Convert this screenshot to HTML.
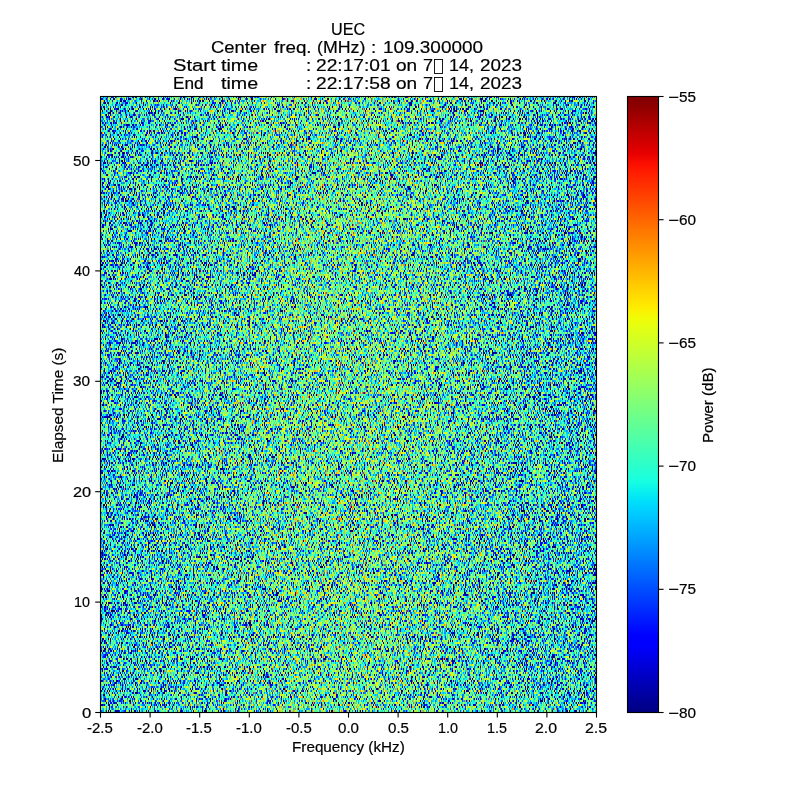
<!DOCTYPE html>
<html><head><meta charset="utf-8"><title>UEC spectrogram</title>
<style>
html,body{margin:0;padding:0;background:#fff}
body{width:800px;height:800px;position:relative;overflow:hidden;font-family:"Liberation Sans", sans-serif;color:#000}
.t{position:absolute;white-space:pre;line-height:1;transform-origin:0 0;font-family:"Liberation Sans", sans-serif;color:#000;-webkit-text-stroke:0.2px #000}
svg{position:absolute;left:0;top:0}
#tx{position:absolute;left:0;top:0;width:800px;height:800px;will-change:transform}
#cb{position:absolute;left:627px;top:96px;width:32px;height:617px;background:linear-gradient(to bottom,rgb(128,0,0) 0.000%,rgb(141,0,0) 1.562%,rgb(159,0,0) 3.125%,rgb(178,0,0) 4.688%,rgb(196,0,0) 6.250%,rgb(214,0,0) 7.812%,rgb(232,0,0) 9.375%,rgb(250,15,0) 10.938%,rgb(255,30,0) 12.500%,rgb(255,45,0) 14.062%,rgb(255,59,0) 15.625%,rgb(255,74,0) 17.188%,rgb(255,89,0) 18.750%,rgb(255,104,0) 20.312%,rgb(255,119,0) 21.875%,rgb(255,134,0) 23.438%,rgb(255,148,0) 25.000%,rgb(255,163,0) 26.562%,rgb(255,178,0) 28.125%,rgb(255,193,0) 29.688%,rgb(255,208,0) 31.250%,rgb(255,222,0) 32.812%,rgb(254,237,0) 34.375%,rgb(241,252,6) 35.938%,rgb(228,255,19) 37.500%,rgb(215,255,31) 39.062%,rgb(202,255,44) 40.625%,rgb(190,255,57) 42.188%,rgb(177,255,70) 43.750%,rgb(164,255,83) 45.312%,rgb(151,255,96) 46.875%,rgb(138,255,109) 48.438%,rgb(125,255,122) 50.000%,rgb(112,255,135) 51.562%,rgb(99,255,148) 53.125%,rgb(86,255,160) 54.688%,rgb(73,255,173) 56.250%,rgb(60,255,186) 57.812%,rgb(48,255,199) 59.375%,rgb(35,255,212) 60.938%,rgb(22,255,225) 62.500%,rgb(9,240,238) 64.062%,rgb(0,224,251) 65.625%,rgb(0,208,255) 67.188%,rgb(0,192,255) 68.750%,rgb(0,176,255) 70.312%,rgb(0,160,255) 71.875%,rgb(0,144,255) 73.438%,rgb(0,128,255) 75.000%,rgb(0,112,255) 76.562%,rgb(0,96,255) 78.125%,rgb(0,80,255) 79.688%,rgb(0,64,255) 81.250%,rgb(0,48,255) 82.812%,rgb(0,32,255) 84.375%,rgb(0,16,255) 85.938%,rgb(0,0,255) 87.500%,rgb(0,0,255) 89.062%,rgb(0,0,237) 90.625%,rgb(0,0,218) 92.188%,rgb(0,0,200) 93.750%,rgb(0,0,182) 95.312%,rgb(0,0,164) 96.875%,rgb(0,0,146) 98.438%,rgb(0,0,128) 100.000%)}
</style></head><body>
<div id="cb"></div>
<svg width="800" height="800" viewBox="0 0 800 800">
<defs>
<linearGradient id="mg" gradientUnits="userSpaceOnUse" x1="0" y1="0" x2="496" y2="0"><stop offset="0.0000" stop-color="rgb(55,55,55)"/><stop offset="0.0156" stop-color="rgb(61,61,61)"/><stop offset="0.0312" stop-color="rgb(67,67,67)"/><stop offset="0.0469" stop-color="rgb(73,73,73)"/><stop offset="0.0625" stop-color="rgb(79,79,79)"/><stop offset="0.0781" stop-color="rgb(86,86,86)"/><stop offset="0.0938" stop-color="rgb(94,94,94)"/><stop offset="0.1094" stop-color="rgb(101,101,101)"/><stop offset="0.1250" stop-color="rgb(109,109,109)"/><stop offset="0.1406" stop-color="rgb(117,117,117)"/><stop offset="0.1562" stop-color="rgb(125,125,125)"/><stop offset="0.1719" stop-color="rgb(134,134,134)"/><stop offset="0.1875" stop-color="rgb(142,142,142)"/><stop offset="0.2031" stop-color="rgb(151,151,151)"/><stop offset="0.2188" stop-color="rgb(159,159,159)"/><stop offset="0.2344" stop-color="rgb(168,168,168)"/><stop offset="0.2500" stop-color="rgb(177,177,177)"/><stop offset="0.2656" stop-color="rgb(185,185,185)"/><stop offset="0.2812" stop-color="rgb(193,193,193)"/><stop offset="0.2969" stop-color="rgb(201,201,201)"/><stop offset="0.3125" stop-color="rgb(209,209,209)"/><stop offset="0.3281" stop-color="rgb(216,216,216)"/><stop offset="0.3438" stop-color="rgb(222,222,222)"/><stop offset="0.3594" stop-color="rgb(229,229,229)"/><stop offset="0.3750" stop-color="rgb(234,234,234)"/><stop offset="0.3906" stop-color="rgb(239,239,239)"/><stop offset="0.4062" stop-color="rgb(244,244,244)"/><stop offset="0.4219" stop-color="rgb(248,248,248)"/><stop offset="0.4375" stop-color="rgb(251,251,251)"/><stop offset="0.4531" stop-color="rgb(253,253,253)"/><stop offset="0.4688" stop-color="rgb(254,254,254)"/><stop offset="0.4844" stop-color="rgb(255,255,255)"/><stop offset="0.5000" stop-color="rgb(255,255,255)"/><stop offset="0.5156" stop-color="rgb(254,254,254)"/><stop offset="0.5312" stop-color="rgb(252,252,252)"/><stop offset="0.5469" stop-color="rgb(250,250,250)"/><stop offset="0.5625" stop-color="rgb(247,247,247)"/><stop offset="0.5781" stop-color="rgb(243,243,243)"/><stop offset="0.5938" stop-color="rgb(238,238,238)"/><stop offset="0.6094" stop-color="rgb(233,233,233)"/><stop offset="0.6250" stop-color="rgb(227,227,227)"/><stop offset="0.6406" stop-color="rgb(221,221,221)"/><stop offset="0.6562" stop-color="rgb(214,214,214)"/><stop offset="0.6719" stop-color="rgb(207,207,207)"/><stop offset="0.6875" stop-color="rgb(199,199,199)"/><stop offset="0.7031" stop-color="rgb(191,191,191)"/><stop offset="0.7188" stop-color="rgb(183,183,183)"/><stop offset="0.7344" stop-color="rgb(174,174,174)"/><stop offset="0.7500" stop-color="rgb(166,166,166)"/><stop offset="0.7656" stop-color="rgb(157,157,157)"/><stop offset="0.7812" stop-color="rgb(148,148,148)"/><stop offset="0.7969" stop-color="rgb(140,140,140)"/><stop offset="0.8125" stop-color="rgb(131,131,131)"/><stop offset="0.8281" stop-color="rgb(123,123,123)"/><stop offset="0.8438" stop-color="rgb(115,115,115)"/><stop offset="0.8594" stop-color="rgb(107,107,107)"/><stop offset="0.8750" stop-color="rgb(99,99,99)"/><stop offset="0.8906" stop-color="rgb(92,92,92)"/><stop offset="0.9062" stop-color="rgb(84,84,84)"/><stop offset="0.9219" stop-color="rgb(78,78,78)"/><stop offset="0.9375" stop-color="rgb(71,71,71)"/><stop offset="0.9531" stop-color="rgb(65,65,65)"/><stop offset="0.9688" stop-color="rgb(59,59,59)"/><stop offset="0.9844" stop-color="rgb(54,54,54)"/><stop offset="1.0000" stop-color="rgb(49,49,49)"/></linearGradient>
<pattern id="rows" patternUnits="userSpaceOnUse" x="100" y="96" width="496" height="2"><rect x="0" y="0" width="496" height="1" fill="url(#mg)" shape-rendering="crispEdges"/></pattern>
<filter id="nz" filterUnits="userSpaceOnUse" x="100" y="96" width="496" height="616" color-interpolation-filters="sRGB">
<feTurbulence x="100" y="96" width="100" height="616" type="fractalNoise" baseFrequency="2.3379 0.40895" numOctaves="2" seed="3" result="t00"/>
<feTurbulence x="200" y="96" width="100" height="616" type="fractalNoise" baseFrequency="2.3379 0.40895" numOctaves="2" seed="10" result="t01"/>
<feTurbulence x="300" y="96" width="100" height="616" type="fractalNoise" baseFrequency="2.3379 0.40895" numOctaves="2" seed="17" result="t02"/>
<feTurbulence x="400" y="96" width="100" height="616" type="fractalNoise" baseFrequency="2.3379 0.40895" numOctaves="2" seed="24" result="t03"/>
<feTurbulence x="500" y="96" width="96" height="616" type="fractalNoise" baseFrequency="2.3379 0.40895" numOctaves="2" seed="31" result="t04"/>
<feMerge result="m0"><feMergeNode in="t00"/><feMergeNode in="t01"/><feMergeNode in="t02"/><feMergeNode in="t03"/><feMergeNode in="t04"/></feMerge>
<feColorMatrix in="m0" type="matrix" values="0 0 0 1 0 0 0 0 1 0 0 0 0 1 0 0 0 0 0 1" result="g0"/>
<feTurbulence x="100" y="96" width="100" height="616" type="fractalNoise" baseFrequency="1.9306 0.37101" numOctaves="2" seed="40" result="t10"/>
<feTurbulence x="200" y="96" width="100" height="616" type="fractalNoise" baseFrequency="1.9306 0.37101" numOctaves="2" seed="47" result="t11"/>
<feTurbulence x="300" y="96" width="100" height="616" type="fractalNoise" baseFrequency="1.9306 0.37101" numOctaves="2" seed="54" result="t12"/>
<feTurbulence x="400" y="96" width="100" height="616" type="fractalNoise" baseFrequency="1.9306 0.37101" numOctaves="2" seed="61" result="t13"/>
<feTurbulence x="500" y="96" width="96" height="616" type="fractalNoise" baseFrequency="1.9306 0.37101" numOctaves="2" seed="68" result="t14"/>
<feMerge result="m1"><feMergeNode in="t10"/><feMergeNode in="t11"/><feMergeNode in="t12"/><feMergeNode in="t13"/><feMergeNode in="t14"/></feMerge>
<feColorMatrix in="m1" type="matrix" values="0 0 0 1 0 0 0 0 1 0 0 0 0 1 0 0 0 0 0 1" result="g1"/>
<feComposite in="g0" in2="g1" operator="arithmetic" k1="0" k2="1" k3="1" k4="-0.5" result="n"/>
<feComposite in="n" in2="SourceGraphic" operator="in" result="ne"/>
<feOffset in="ne" dy="1" result="no"/>
<feMerge result="nn"><feMergeNode in="no"/><feMergeNode in="ne"/></feMerge>
<feComponentTransfer in="nn" result="d"><feFuncR type="table" tableValues="0 0 0 0 0 0 0 0 0 0 0 0 0 0 0 0 0 0 0 0 0 0 0 0 0 0 0 0 0 0 0 0 0 0 0 0 0 0 0 0 0 0 0 0 0 0 0 0 0 0 0 0 0 0 0 0 0 0 0.002 0.011 0.019 0.028 0.037 0.046 0.054 0.062 0.07 0.078 0.086 0.094 0.102 0.11 0.117 0.125 0.132 0.14 0.147 0.154 0.162 0.169 0.176 0.183 0.19 0.196 0.203 0.21 0.217 0.224 0.23 0.237 0.243 0.249 0.256 0.262 0.268 0.275 0.281 0.287 0.293 0.299 0.304 0.31 0.316 0.322 0.327 0.333 0.339 0.344 0.35 0.355 0.361 0.366 0.371 0.376 0.382 0.387 0.392 0.397 0.402 0.407 0.412 0.417 0.422 0.427 0.432 0.436 0.441 0.446 0.45 0.455 0.459 0.464 0.468 0.473 0.477 0.481 0.486 0.49 0.495 0.499 0.503 0.507 0.511 0.515 0.52 0.524 0.528 0.532 0.536 0.54 0.544 0.548 0.551 0.555 0.559 0.563 0.566 0.57 0.574 0.577 0.581 0.585 0.588 0.592 0.596 0.599 0.603 0.606 0.61 0.613 0.616 0.62 0.623 0.626 0.63 0.633 0.636 0.639 0.643 0.646 0.649 0.652 0.656 0.659 0.662 0.665 0.668 0.671 0.674 0.678 0.681 0.683 0.686 0.689 0.692 0.695 0.698 0.701 0.704 0.707 0.71 0.712 0.715 0.718 0.721 0.723 0.726 0.73 0.733 0.735 0.738 0.74 0.743 0.746 0.748 0.751 0.754 0.756 0.759 0.761 0.764 0.767 0.769 0.771 0.774 0.777 0.78 0.783 0.785 0.788 0.79 0.792 0.794 0.797 0.8 0.803 0.805 0.807 0.81 0.812 0.814 0.817 0.82 0.822 0.824 0.826 0.828 0.831 0.833 0.835 0.837 0.84 0.841 0.844 0.848 0.868"/><feFuncG type="table" tableValues="0 0 0 0 0 0 0 0 0 0 0 0 0 0 0 0 0 0 0 0 0 0 0 0 0 0 0 0 0 0 0 0 0 0 0 0 0 0 0 0 0 0 0 0 0 0 0 0 0 0 0 0 0 0 0 0 0 0 0.002 0.011 0.019 0.028 0.037 0.046 0.054 0.062 0.07 0.078 0.086 0.094 0.102 0.11 0.117 0.125 0.132 0.14 0.147 0.154 0.162 0.169 0.176 0.183 0.19 0.196 0.203 0.21 0.217 0.224 0.23 0.237 0.243 0.249 0.256 0.262 0.268 0.275 0.281 0.287 0.293 0.299 0.304 0.31 0.316 0.322 0.327 0.333 0.339 0.344 0.35 0.355 0.361 0.366 0.371 0.376 0.382 0.387 0.392 0.397 0.402 0.407 0.412 0.417 0.422 0.427 0.432 0.436 0.441 0.446 0.45 0.455 0.459 0.464 0.468 0.473 0.477 0.481 0.486 0.49 0.495 0.499 0.503 0.507 0.511 0.515 0.52 0.524 0.528 0.532 0.536 0.54 0.544 0.548 0.551 0.555 0.559 0.563 0.566 0.57 0.574 0.577 0.581 0.585 0.588 0.592 0.596 0.599 0.603 0.606 0.61 0.613 0.616 0.62 0.623 0.626 0.63 0.633 0.636 0.639 0.643 0.646 0.649 0.652 0.656 0.659 0.662 0.665 0.668 0.671 0.674 0.678 0.681 0.683 0.686 0.689 0.692 0.695 0.698 0.701 0.704 0.707 0.71 0.712 0.715 0.718 0.721 0.723 0.726 0.73 0.733 0.735 0.738 0.74 0.743 0.746 0.748 0.751 0.754 0.756 0.759 0.761 0.764 0.767 0.769 0.771 0.774 0.777 0.78 0.783 0.785 0.788 0.79 0.792 0.794 0.797 0.8 0.803 0.805 0.807 0.81 0.812 0.814 0.817 0.82 0.822 0.824 0.826 0.828 0.831 0.833 0.835 0.837 0.84 0.841 0.844 0.848 0.868"/><feFuncB type="table" tableValues="0 0 0 0 0 0 0 0 0 0 0 0 0 0 0 0 0 0 0 0 0 0 0 0 0 0 0 0 0 0 0 0 0 0 0 0 0 0 0 0 0 0 0 0 0 0 0 0 0 0 0 0 0 0 0 0 0 0 0.002 0.011 0.019 0.028 0.037 0.046 0.054 0.062 0.07 0.078 0.086 0.094 0.102 0.11 0.117 0.125 0.132 0.14 0.147 0.154 0.162 0.169 0.176 0.183 0.19 0.196 0.203 0.21 0.217 0.224 0.23 0.237 0.243 0.249 0.256 0.262 0.268 0.275 0.281 0.287 0.293 0.299 0.304 0.31 0.316 0.322 0.327 0.333 0.339 0.344 0.35 0.355 0.361 0.366 0.371 0.376 0.382 0.387 0.392 0.397 0.402 0.407 0.412 0.417 0.422 0.427 0.432 0.436 0.441 0.446 0.45 0.455 0.459 0.464 0.468 0.473 0.477 0.481 0.486 0.49 0.495 0.499 0.503 0.507 0.511 0.515 0.52 0.524 0.528 0.532 0.536 0.54 0.544 0.548 0.551 0.555 0.559 0.563 0.566 0.57 0.574 0.577 0.581 0.585 0.588 0.592 0.596 0.599 0.603 0.606 0.61 0.613 0.616 0.62 0.623 0.626 0.63 0.633 0.636 0.639 0.643 0.646 0.649 0.652 0.656 0.659 0.662 0.665 0.668 0.671 0.674 0.678 0.681 0.683 0.686 0.689 0.692 0.695 0.698 0.701 0.704 0.707 0.71 0.712 0.715 0.718 0.721 0.723 0.726 0.73 0.733 0.735 0.738 0.74 0.743 0.746 0.748 0.751 0.754 0.756 0.759 0.761 0.764 0.767 0.769 0.771 0.774 0.777 0.78 0.783 0.785 0.788 0.79 0.792 0.794 0.797 0.8 0.803 0.805 0.807 0.81 0.812 0.814 0.817 0.82 0.822 0.824 0.826 0.828 0.831 0.833 0.835 0.837 0.84 0.841 0.844 0.848 0.868"/></feComponentTransfer>
<feOffset in="SourceGraphic" dy="1" result="so"/>
<feMerge result="gg"><feMergeNode in="so"/><feMergeNode in="SourceGraphic"/></feMerge>
<feComposite in="d" in2="gg" operator="arithmetic" k1="0" k2="1" k3="0.1200" k4="-0.1200" result="v"/>
<feComponentTransfer in="v" result="c"><feFuncR type="table" tableValues="0 0 0 0 0 0 0 0 0 0 0 0 0 0 0 0 0 0 0 0 0 0 0 0 0 0 0 0 0 0 0 0 0 0 0 0 0 0 0 0 0 0 0 0 0 0 0 0 0 0 0 0 0 0 0 0 0 0 0 0 0 0 0 0 0 0 0 0 0 0 0 0 0 0 0 0 0 0 0 0 0 0 0 0 0 0 0 0 0 0 0.009 0.022 0.035 0.047 0.06 0.073 0.085 0.098 0.111 0.123 0.136 0.149 0.161 0.174 0.187 0.199 0.212 0.225 0.237 0.25 0.262 0.275 0.288 0.3 0.313 0.326 0.338 0.351 0.364 0.376 0.389 0.402 0.414 0.427 0.44 0.452 0.465 0.478 0.49 0.503 0.515 0.528 0.541 0.553 0.566 0.579 0.591 0.604 0.617 0.629 0.642 0.655 0.667 0.68 0.693 0.705 0.718 0.731 0.743 0.756 0.769 0.781 0.794 0.806 0.819 0.832 0.844 0.857 0.87 0.882 0.895 0.908 0.92 0.933 0.946 0.958 0.971 0.984 0.996 1 1 1 1 1 1 1 1 1 1 1 1 1 1 1 1 1 1 1 1 1 1 1 1 1 1 1 1 1 1 1 1 1 1 1 1 1 1 1 1 1 1 1 1 1 1 1 1 1 1 1 1 1 1 1 1 1 1 0.999 0.981 0.963 0.946 0.928 0.91 0.892 0.874 0.857 0.839 0.821 0.803 0.785 0.767 0.75 0.732 0.714 0.696 0.678 0.66 0.643 0.625 0.607 0.589 0.571 0.553 0.536 0.518 0.5"/><feFuncG type="table" tableValues="0 0 0 0 0 0 0 0 0 0 0 0 0 0 0 0 0 0 0 0 0 0 0 0 0 0 0 0 0 0 0 0 0.002 0.018 0.033 0.049 0.065 0.08 0.096 0.112 0.127 0.143 0.159 0.175 0.19 0.206 0.222 0.237 0.253 0.269 0.284 0.3 0.316 0.331 0.347 0.363 0.378 0.394 0.41 0.425 0.441 0.457 0.473 0.488 0.504 0.52 0.535 0.551 0.567 0.582 0.598 0.614 0.629 0.645 0.661 0.676 0.692 0.708 0.724 0.739 0.755 0.771 0.786 0.802 0.818 0.833 0.849 0.865 0.88 0.896 0.912 0.927 0.943 0.959 0.975 0.99 1 1 1 1 1 1 1 1 1 1 1 1 1 1 1 1 1 1 1 1 1 1 1 1 1 1 1 1 1 1 1 1 1 1 1 1 1 1 1 1 1 1 1 1 1 1 1 1 1 1 1 1 1 1 1 1 1 1 1 1 1 1 1 1 1 1 1 1 0.988 0.974 0.959 0.945 0.93 0.916 0.901 0.887 0.872 0.858 0.843 0.829 0.814 0.8 0.785 0.771 0.756 0.741 0.727 0.712 0.698 0.683 0.669 0.654 0.64 0.625 0.611 0.596 0.582 0.567 0.553 0.538 0.524 0.509 0.495 0.48 0.466 0.451 0.436 0.422 0.407 0.393 0.378 0.364 0.349 0.335 0.32 0.306 0.291 0.277 0.262 0.248 0.233 0.219 0.204 0.19 0.175 0.16 0.146 0.131 0.117 0.102 0.088 0.073 0.059 0.044 0.03 0.015 0.001 0 0 0 0 0 0 0 0 0 0 0 0 0 0 0 0 0 0 0 0 0 0 0"/><feFuncB type="table" tableValues="0.5 0.518 0.536 0.553 0.571 0.589 0.607 0.625 0.643 0.66 0.678 0.696 0.714 0.732 0.75 0.767 0.785 0.803 0.821 0.839 0.857 0.874 0.892 0.91 0.928 0.946 0.963 0.981 0.999 1 1 1 1 1 1 1 1 1 1 1 1 1 1 1 1 1 1 1 1 1 1 1 1 1 1 1 1 1 1 1 1 1 1 1 1 1 1 1 1 1 1 1 1 1 1 1 1 1 1 1 1 1 1 1 1 1 1 0.996 0.984 0.971 0.958 0.946 0.933 0.92 0.908 0.895 0.882 0.87 0.857 0.844 0.832 0.819 0.806 0.794 0.781 0.769 0.756 0.743 0.731 0.718 0.705 0.693 0.68 0.667 0.655 0.642 0.629 0.617 0.604 0.591 0.579 0.566 0.553 0.541 0.528 0.515 0.503 0.49 0.478 0.465 0.452 0.44 0.427 0.414 0.402 0.389 0.376 0.364 0.351 0.338 0.326 0.313 0.3 0.288 0.275 0.262 0.25 0.237 0.225 0.212 0.199 0.187 0.174 0.161 0.149 0.136 0.123 0.111 0.098 0.085 0.073 0.06 0.047 0.035 0.022 0.009 0 0 0 0 0 0 0 0 0 0 0 0 0 0 0 0 0 0 0 0 0 0 0 0 0 0 0 0 0 0 0 0 0 0 0 0 0 0 0 0 0 0 0 0 0 0 0 0 0 0 0 0 0 0 0 0 0 0 0 0 0 0 0 0 0 0 0 0 0 0 0 0 0 0 0 0 0 0 0 0 0 0 0 0 0 0 0 0 0 0"/></feComponentTransfer>

</filter>
</defs>
<rect x="100" y="96" width="496" height="616" fill="#2ec8c0"/>
<rect x="100" y="96" width="496" height="616" fill="url(#rows)" filter="url(#nz)"/>
<g fill="none" stroke="#000" stroke-width="1.11">
<rect x="100.5" y="96.5" width="496" height="616"/>
<rect x="627.5" y="96.5" width="31" height="616"/>
</g>
<g stroke="#000" stroke-width="1.1">
<path d="M100.50 713V717.6"/><path d="M150.10 713V717.6"/><path d="M199.70 713V717.6"/><path d="M249.30 713V717.6"/><path d="M298.90 713V717.6"/><path d="M348.50 713V717.6"/><path d="M398.10 713V717.6"/><path d="M447.70 713V717.6"/><path d="M497.30 713V717.6"/><path d="M546.90 713V717.6"/><path d="M596.50 713V717.6"/>
<path d="M100 712.50H95.2"/><path d="M100 602.10H95.2"/><path d="M100 491.70H95.2"/><path d="M100 381.30H95.2"/><path d="M100 270.90H95.2"/><path d="M100 160.50H95.2"/>
<path d="M659 96.50H663.6"/><path d="M659 219.70H663.6"/><path d="M659 342.90H663.6"/><path d="M659 466.10H663.6"/><path d="M659 589.30H663.6"/><path d="M659 712.50H663.6"/>
</g>
<g fill="none" stroke="#000" stroke-width="0.9"><rect x="434.45" y="59.45" width="8.1" height="14"/><rect x="434.45" y="77.45" width="8.1" height="14"/></g>
</svg>
<div id="tx">
<div class="t" style="left:331.06px;top:21.44px;font-size:17.2px;transform:scaleX(0.9412)">UEC</div>
<div class="t" style="left:211.33px;top:39.44px;font-size:17.2px;transform:scaleX(1.0720)">Center</div>
<div class="t" style="left:274.40px;top:39.44px;font-size:17.2px;transform:scaleX(1.0909)">freq.</div>
<div class="t" style="left:317.47px;top:39.44px;font-size:17.2px;transform:scaleX(1.0333)">(MHz)</div>
<div class="t" style="left:371.30px;top:39.44px;font-size:17.2px;transform:scaleX(1.1000)">:</div>
<div class="t" style="left:382.90px;top:39.44px;font-size:17.2px;transform:scaleX(1.1011)">109.300000</div>
<div class="t" style="left:172.83px;top:57.44px;font-size:17.2px;transform:scaleX(1.1714)">Start</div>
<div class="t" style="left:221.00px;top:57.44px;font-size:17.2px;transform:scaleX(1.1438)">time</div>
<div class="t" style="left:305.60px;top:57.44px;font-size:17.2px;transform:scaleX(1.1000)">:</div>
<div class="t" style="left:316.38px;top:57.44px;font-size:17.2px;transform:scaleX(1.1154)">22:17:01</div>
<div class="t" style="left:396.29px;top:57.44px;font-size:17.2px;transform:scaleX(1.1088)">on</div>
<div class="t" style="left:422.85px;top:57.44px;font-size:17.2px;transform:scaleX(1.0500)">7</div>
<div class="t" style="left:449.36px;top:57.44px;font-size:17.2px;transform:scaleX(1.0429)">14,</div>
<div class="t" style="left:479.90px;top:57.44px;font-size:17.2px;transform:scaleX(1.0973)">2023</div>
<div class="t" style="left:173.00px;top:75.44px;font-size:17.2px;transform:scaleX(1.0000)">End</div>
<div class="t" style="left:221.00px;top:75.44px;font-size:17.2px;transform:scaleX(1.1438)">time</div>
<div class="t" style="left:305.60px;top:75.44px;font-size:17.2px;transform:scaleX(1.1000)">:</div>
<div class="t" style="left:316.38px;top:75.44px;font-size:17.2px;transform:scaleX(1.1154)">22:17:58</div>
<div class="t" style="left:396.29px;top:75.44px;font-size:17.2px;transform:scaleX(1.1088)">on</div>
<div class="t" style="left:422.85px;top:75.44px;font-size:17.2px;transform:scaleX(1.0500)">7</div>
<div class="t" style="left:449.36px;top:75.44px;font-size:17.2px;transform:scaleX(1.0429)">14,</div>
<div class="t" style="left:479.90px;top:75.44px;font-size:17.2px;transform:scaleX(1.0973)">2023</div>
<div class="t" style="left:86.96px;top:720.90px;font-size:14.3px;transform:scaleX(1.0435)">-2.5</div>
<div class="t" style="left:136.96px;top:720.90px;font-size:14.3px;transform:scaleX(1.0435)">-2.0</div>
<div class="t" style="left:185.96px;top:720.90px;font-size:14.3px;transform:scaleX(1.0435)">-1.5</div>
<div class="t" style="left:235.96px;top:720.90px;font-size:14.3px;transform:scaleX(1.0435)">-1.0</div>
<div class="t" style="left:285.96px;top:720.90px;font-size:14.3px;transform:scaleX(1.0435)">-0.5</div>
<div class="t" style="left:337.94px;top:720.90px;font-size:14.3px;transform:scaleX(1.0556)">0.0</div>
<div class="t" style="left:387.94px;top:720.90px;font-size:14.3px;transform:scaleX(1.0556)">0.5</div>
<div class="t" style="left:438.00px;top:720.90px;font-size:14.3px;transform:scaleX(1.0000)">1.0</div>
<div class="t" style="left:487.00px;top:720.90px;font-size:14.3px;transform:scaleX(1.0000)">1.5</div>
<div class="t" style="left:534.89px;top:720.90px;font-size:14.3px;transform:scaleX(1.1111)">2.0</div>
<div class="t" style="left:584.89px;top:720.90px;font-size:14.3px;transform:scaleX(1.1111)">2.5</div>
<div class="t" style="left:72.93px;top:153.90px;font-size:14.3px;transform:scaleX(1.0714)">50</div>
<div class="t" style="left:74.00px;top:263.90px;font-size:14.3px;transform:scaleX(1.0000)">40</div>
<div class="t" style="left:72.93px;top:373.90px;font-size:14.3px;transform:scaleX(1.0714)">30</div>
<div class="t" style="left:72.86px;top:484.90px;font-size:14.3px;transform:scaleX(1.1429)">20</div>
<div class="t" style="left:74.00px;top:594.90px;font-size:14.3px;transform:scaleX(1.0000)">10</div>
<div class="t" style="left:81.83px;top:705.90px;font-size:14.3px;transform:scaleX(1.1667)">0</div>
<div class="t" style="left:667.71px;top:89.90px;font-size:14.3px;transform:scaleX(1.2857)">−</div>
<div class="t" style="left:678.93px;top:89.90px;font-size:14.3px;transform:scaleX(1.0714)">55</div>
<div class="t" style="left:667.71px;top:212.90px;font-size:14.3px;transform:scaleX(1.2857)">−</div>
<div class="t" style="left:678.93px;top:212.90px;font-size:14.3px;transform:scaleX(1.0714)">60</div>
<div class="t" style="left:667.71px;top:335.90px;font-size:14.3px;transform:scaleX(1.2857)">−</div>
<div class="t" style="left:678.93px;top:335.90px;font-size:14.3px;transform:scaleX(1.0714)">65</div>
<div class="t" style="left:667.71px;top:458.90px;font-size:14.3px;transform:scaleX(1.2857)">−</div>
<div class="t" style="left:678.93px;top:458.90px;font-size:14.3px;transform:scaleX(1.0714)">70</div>
<div class="t" style="left:667.71px;top:581.90px;font-size:14.3px;transform:scaleX(1.2857)">−</div>
<div class="t" style="left:678.93px;top:581.90px;font-size:14.3px;transform:scaleX(1.0714)">75</div>
<div class="t" style="left:667.71px;top:705.90px;font-size:14.3px;transform:scaleX(1.2857)">−</div>
<div class="t" style="left:678.93px;top:705.90px;font-size:14.3px;transform:scaleX(1.0714)">80</div>
<div class="t" style="left:291.93px;top:739.90px;font-size:14.3px;transform:scaleX(1.0673)">Frequency (kHz)</div>
<div class="t" style="left:50.50px;top:463.08px;font-size:14.3px;transform:rotate(-90deg) scaleX(1.0762)">Elapsed Time (s)</div>
<div class="t" style="left:700.50px;top:443.06px;font-size:14.3px;transform:rotate(-90deg) scaleX(1.0571)">Power (dB)</div>
</div>
</body></html>
